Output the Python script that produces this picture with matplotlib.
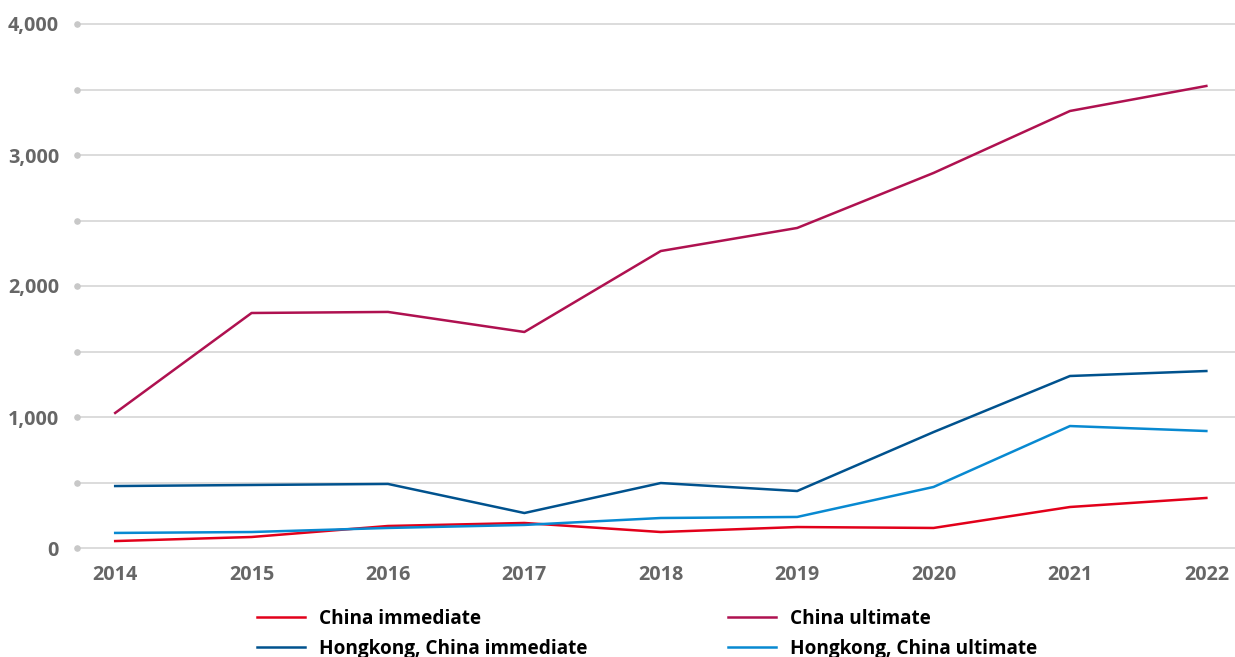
import matplotlib
matplotlib.use('Agg')
from matplotlib import pyplot as plt

years = [2014, 2015, 2016, 2017, 2018, 2019, 2020, 2021, 2022]
china_immediate = [53, 84, 168, 191, 122, 160, 153, 313, 382]
china_ultimate = [1031, 1794, 1802, 1649, 2267, 2443, 2863, 3336, 3527]
hk_immediate = [473, 481, 489, 267, 496, 435, 885, 1313, 1351]
hk_ultimate = [115, 122, 153, 176, 229, 237, 466, 931, 893]

y_ticks = [0, 1000, 2000, 3000, 4000]
y_grid = [0, 500, 1000, 1500, 2000, 2500, 3000, 3500, 4000]

W, H = 1235, 657
plt.rcParams['font.family'] = ['Open Sans', 'DejaVu Sans']

fig = plt.figure(figsize=(W / 100, H / 100), dpi=100)
ax = fig.add_axes([77 / W, (H - 548) / H, (W - 77) / W, 524 / H])

ax.plot(years, china_immediate, color='#e2001a', lw=1.8, label='China immediate')
ax.plot(years, hk_immediate, color='#00528e', lw=1.8, label='Hongkong, China immediate')
ax.plot(years, china_ultimate, color='#af1150', lw=1.8, label='China ultimate')
ax.plot(years, hk_ultimate, color='#0889d1', lw=1.8, label='Hongkong, China ultimate')

ax.set_xlim(2013.72, 2022.21)
ax.set_ylim(0, 4000)

for v in y_grid:
    ax.axhline(v, color='#d2d2d2', lw=1.1, zorder=0, clip_on=False)
ax.scatter([0] * len(y_grid), y_grid, s=14, color='#c8c8c8', zorder=1,
           transform=ax.get_yaxis_transform(), clip_on=False)

ax.set_yticks(y_ticks)
ax.set_yticklabels([f'{v:,}' for v in y_ticks])
ax.set_xticks(years)
ax.tick_params(length=0, labelsize=14.2, labelcolor='#666666')
ax.tick_params(axis='y', pad=13)
ax.tick_params(axis='x', pad=12)
for lbl in ax.get_xticklabels() + ax.get_yticklabels():
    lbl.set_fontweight('bold')

for s in ax.spines.values():
    s.set_visible(False)

fig.legend(loc='upper left', bbox_to_anchor=(257 / W, 1 - 609 / H), ncol=2,
           frameon=False, borderpad=0, borderaxespad=0,
           prop={'weight': 'bold', 'size': 13.7},
           handlelength=2.5, handletextpad=0.75, columnspacing=7.4,
           labelspacing=0.5)

fig.savefig('out.png', dpi=100)
